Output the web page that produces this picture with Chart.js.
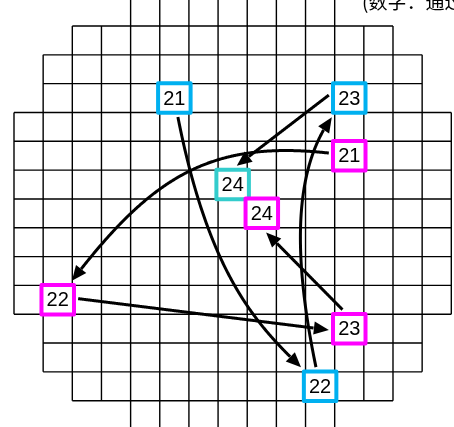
<!DOCTYPE html>
<html>
<head>
<meta charset="utf-8">
<script src="https://cdn.jsdelivr.net/npm/chart.js@4.4.0/dist/chart.umd.min.js"></script>
<style>
  html, body { margin: 0; padding: 0; background: #fff; }
  #wrap { width: 454px; height: 427px; }
</style>
</head>
<body>
<div id="wrap"><canvas id="waferChart" width="454" height="427"></canvas></div>
<script>
// wafer outline: first / last die column of each row, top to bottom
const rowFirstCol = [4, 2, 1, 1, 0, 0, 0, 0, 0, 0, 0, 1, 1, 2, 4];
const rowLastCol  = [10, 12, 13, 13, 14, 14, 14, 14, 14, 14, 14, 13, 13, 12, 10];

// cyan route, in visiting order
const cyanCols   = [5, 10, 11, 7];
const cyanRows   = [3, 13, 3, 6];
const cyanLabels = ['21', '22', '23', '24'];

// magenta route, in visiting order
const magentaCols   = [11, 1, 11, 8];
const magentaRows   = [5, 10, 11, 7];
const magentaLabels = ['21', '22', '23', '24'];

const noteText = '(数字：通过顺序)';

// styles
const cyanBoxColors = ['#00B0F0', '#00B0F0', '#00B0F0', '#33CCCC'];
const magentaBoxColor = '#FF00FF';
const BOX_W = 32.5, BOX_H = 29.5, BOX_LINE = 4;
const HALF_W = BOX_W / 2 + BOX_LINE / 2, HALF_H = BOX_H / 2 + BOX_LINE / 2;
const HEAD_LEN = 15, HEAD_W = 13;

// shape of each leg: bezier controls as [along, across] fractions of the chord,
// optional anchor nudges in px
const cyanLegs = [
  { c1: [0.603, 0.181], c2: [0.794, 0.064] },
  { c1: [0.458, -0.153], c2: [0.803, -0.181] },
  { from: [-10, -11], to: [-6, -11] }
];
const magentaLegs = [
  { c1: [0.358, 0.248], c2: [0.577, 0.219] },
  { from: [0, -3.7], to: [0, 3.8] },
  { from: [12, 0], to: [-14.5, 0] }
];

const toPoints = (cols, rows) => cols.map((c, i) => ({ x: c, y: rows[i] }));

const waferGrid = {
  id: 'waferGrid',
  beforeDatasetsDraw(chart) {
    const { ctx, scales: { x, y } } = chart;
    const n = rowFirstCol.length;
    ctx.save();
    ctx.strokeStyle = '#000';
    ctx.lineWidth = 1.4;
    ctx.beginPath();
    for (let r = 0; r < n; r++) {
      const top = y.getPixelForValue(r - 0.5);
      const bot = y.getPixelForValue(r + 0.5);
      for (let c = rowFirstCol[r]; c <= rowLastCol[r] + 1; c++) {
        const px = x.getPixelForValue(c - 0.5);
        ctx.moveTo(px, top);
        ctx.lineTo(px, bot);
      }
    }
    for (let r = 0; r <= n; r++) {
      let a = Infinity, b = -Infinity;
      if (r > 0) { a = Math.min(a, rowFirstCol[r - 1]); b = Math.max(b, rowLastCol[r - 1]); }
      if (r < n) { a = Math.min(a, rowFirstCol[r]); b = Math.max(b, rowLastCol[r]); }
      const py = y.getPixelForValue(r - 0.5);
      ctx.moveTo(x.getPixelForValue(a - 0.5), py);
      ctx.lineTo(x.getPixelForValue(b + 0.5), py);
    }
    ctx.stroke();
    ctx.restore();
  }
};

function drawLeg(ctx, s, t, leg) {
  const from = leg.from || [0, 0], to = leg.to || [0, 0];
  const c1f = leg.c1 || [1 / 3, 0], c2f = leg.c2 || [2 / 3, 0];
  const p0 = { x: s.x + from[0], y: s.y + from[1] };
  const p3 = { x: t.x + to[0], y: t.y + to[1] };
  const len = Math.hypot(p3.x - p0.x, p3.y - p0.y);
  const ux = (p3.x - p0.x) / len, uy = (p3.y - p0.y) / len;
  const nx = -uy, ny = ux;
  const ctrl = f => ({
    x: p0.x + (f[0] * ux + f[1] * nx) * len,
    y: p0.y + (f[0] * uy + f[1] * ny) * len
  });
  const p1 = ctrl(c1f), p2 = ctrl(c2f);

  const pts = [];
  for (let i = 0; i <= 400; i++) {
    const k = i / 400, m = 1 - k;
    pts.push({
      x: m * m * m * p0.x + 3 * m * m * k * p1.x + 3 * m * k * k * p2.x + k * k * k * p3.x,
      y: m * m * m * p0.y + 3 * m * m * k * p1.y + 3 * m * k * k * p2.y + k * k * k * p3.y
    });
  }
  const outside = (p, c, gap) =>
    Math.abs(p.x - c.x) > HALF_W + gap || Math.abs(p.y - c.y) > HALF_H + gap;

  let i0 = 0;
  while (i0 < pts.length - 1 && !outside(pts[i0], s, 2)) i0++;
  let i1 = pts.length - 1;
  while (i1 > i0 && !outside(pts[i1], t, 2)) i1--;
  const tip = pts[i1];
  let ib = i1;
  while (ib > i0 && Math.hypot(pts[ib].x - tip.x, pts[ib].y - tip.y) < HEAD_LEN) ib--;
  const base = pts[ib];

  ctx.beginPath();
  ctx.moveTo(pts[i0].x, pts[i0].y);
  for (let i = i0 + 1; i <= ib; i++) ctx.lineTo(pts[i].x, pts[i].y);
  ctx.stroke();

  const d = Math.hypot(tip.x - base.x, tip.y - base.y);
  const ax = (tip.x - base.x) / d, ay = (tip.y - base.y) / d;
  const bx = tip.x - ax * HEAD_LEN, by = tip.y - ay * HEAD_LEN;
  ctx.beginPath();
  ctx.moveTo(tip.x, tip.y);
  ctx.lineTo(bx - ay * HEAD_W / 2, by + ax * HEAD_W / 2);
  ctx.lineTo(bx + ay * HEAD_W / 2, by - ax * HEAD_W / 2);
  ctx.closePath();
  ctx.fill();
}

const routes = {
  id: 'routes',
  afterDatasetsDraw(chart) {
    const ctx = chart.ctx;
    const legs = [cyanLegs, magentaLegs];
    ctx.save();
    ctx.strokeStyle = '#000';
    ctx.fillStyle = '#000';
    ctx.lineWidth = 3;
    ctx.lineCap = 'butt';
    ctx.lineJoin = 'round';
    chart.data.datasets.forEach((ds, di) => {
      const els = chart.getDatasetMeta(di).data;
      for (let i = 0; i < els.length - 1; i++) {
        drawLeg(ctx, els[i], els[i + 1], legs[di][i]);
      }
    });

    // numbered boxes
    ctx.font = '20px "Liberation Sans", Arial, sans-serif';
    ctx.textAlign = 'center';
    ctx.textBaseline = 'middle';
    chart.data.datasets.forEach((ds, di) => {
      const els = chart.getDatasetMeta(di).data;
      els.forEach((el, i) => {
        const col = Array.isArray(ds.boxColor) ? ds.boxColor[i] : ds.boxColor;
        ctx.fillStyle = '#fff';
        ctx.fillRect(el.x - BOX_W / 2, el.y - BOX_H / 2, BOX_W, BOX_H);
        ctx.lineWidth = BOX_LINE;
        ctx.strokeStyle = col;
        ctx.strokeRect(el.x - BOX_W / 2, el.y - BOX_H / 2, BOX_W, BOX_H);
        ctx.fillStyle = '#000';
        ctx.fillText(ds.labels[i], el.x, el.y + 1);
      });
    });

    // note, cut off at the top edge
    ctx.font = '19px "Noto Sans CJK SC", sans-serif';
    ctx.textAlign = 'left';
    ctx.textBaseline = 'alphabetic';
    ctx.fillStyle = '#000';
    ctx.fillText(noteText, 362, 9);
    ctx.restore();
  }
};

new Chart(document.getElementById('waferChart'), {
  type: 'scatter',
  data: {
    datasets: [
      { label: 'cyan', data: toPoints(cyanCols, cyanRows), labels: cyanLabels,
        boxColor: cyanBoxColors, pointRadius: 0 },
      { label: 'magenta', data: toPoints(magentaCols, magentaRows), labels: magentaLabels,
        boxColor: magentaBoxColor, pointRadius: 0 }
    ]
  },
  options: {
    responsive: false,
    animation: false,
    events: [],
    layout: { padding: { left: 14, right: 2.7, top: 0, bottom: 0 } },
    scales: {
      x: { type: 'linear', min: -0.5, max: 14.5, display: false },
      y: { type: 'linear', min: -0.403, max: 14.413, reverse: true, display: false }
    },
    plugins: { legend: { display: false }, tooltip: { enabled: false } }
  },
  plugins: [waferGrid, routes]
});
</script>
</body>
</html>
